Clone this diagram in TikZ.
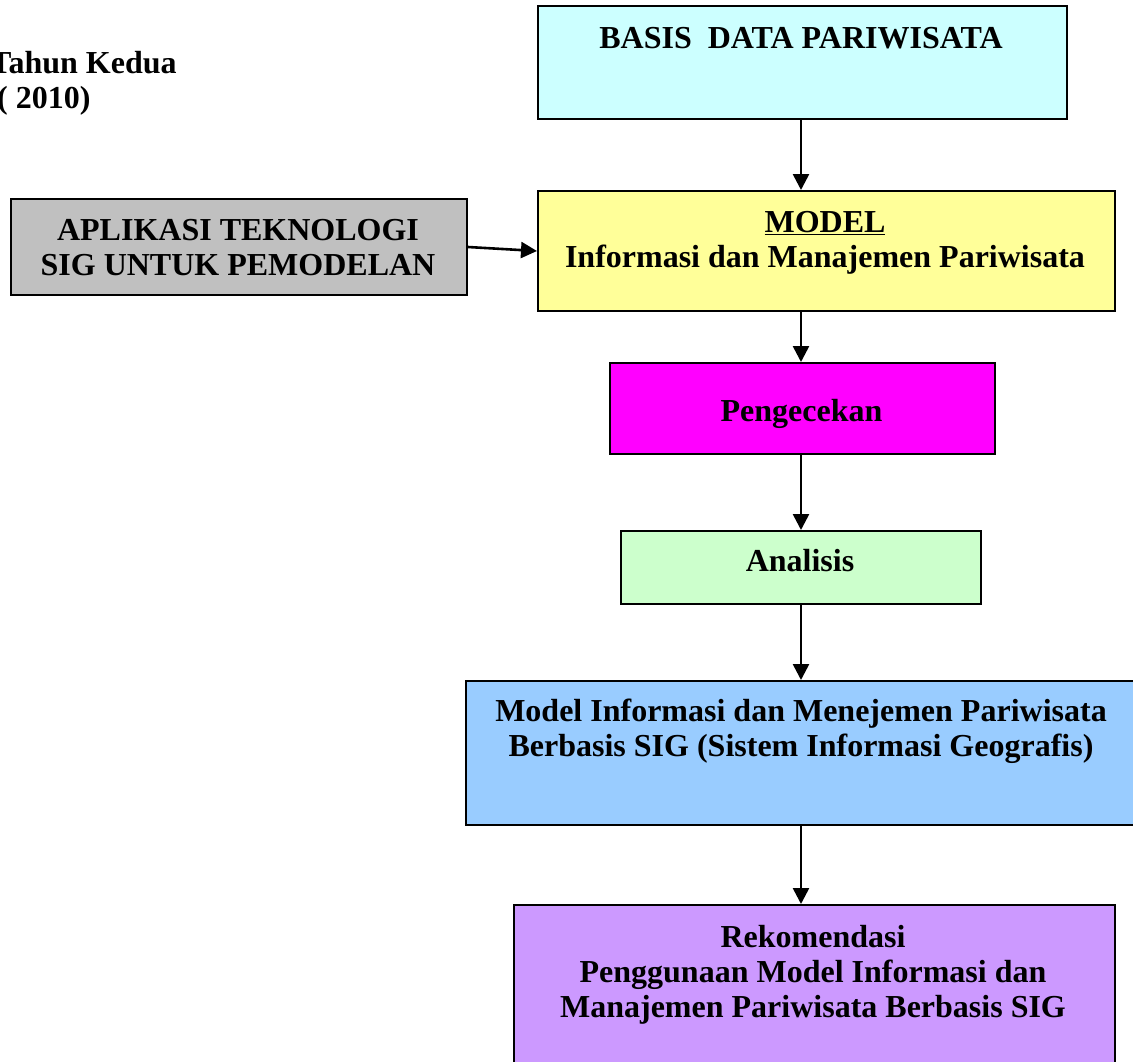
\documentclass[tikz,border=0pt]{standalone}
\usepackage{fontspec}
\setmainfont{Liberation Serif}
\usetikzlibrary{arrows.meta}
\definecolor{cyanc}{HTML}{CCFFFF}
\definecolor{yellowc}{HTML}{FFFF99}
\definecolor{grayc}{HTML}{C0C0C0}
\definecolor{magc}{HTML}{FF00FF}
\definecolor{greenc}{HTML}{CCFFCC}
\definecolor{bluec}{HTML}{99CCFF}
\definecolor{purplec}{HTML}{CC99FF}
\tikzset{
  boxnode/.style={draw=black, line width=2pt, rectangle, anchor=north west, inner sep=0pt},
  txt/.style={font=\fontsize{32}{35}\selectfont\bfseries, anchor=base, inner sep=0pt},
  arr/.style={line width=2.6pt, -{Triangle[width=16pt,length=16pt]}}
}
\begin{document}
\begin{tikzpicture}[x=1pt,y=-1pt]
\useasboundingbox (0,0) rectangle (1133,1061);
% boxes
\node[boxnode, fill=cyanc, minimum width=529pt, minimum height=113pt] (basis) at (537,5) {};
\node[boxnode, fill=yellowc, minimum width=577pt, minimum height=120pt] (model) at (537,190) {};
\node[boxnode, fill=grayc, minimum width=456pt, minimum height=96pt] (aplikasi) at (10,198) {};
\node[boxnode, fill=magc, minimum width=385pt, minimum height=91pt] (cek) at (609,362) {};
\node[boxnode, fill=greenc, minimum width=360pt, minimum height=73pt] (analisis) at (620,530) {};
\node[boxnode, fill=bluec, minimum width=690pt, minimum height=144pt] (sig) at (465,680) {};
\node[boxnode, fill=purplec, minimum width=601pt, minimum height=170pt] (rekom) at (513,904) {};
% texts
\node[txt, anchor=base west] (t1) at (-10,73) {Tahun Kedua};
\node[txt, anchor=base west] (t2) at (-3,108) {( 2010)};
\node[txt] (tbasis) at (801,48) {BASIS\ \ DATA PARIWISATA};
\node[txt] (tmodel1) at (825,232) {\underline{MODEL}};
\node[txt] (tmodel2) at (825,267) {Informasi dan Manajemen Pariwisata};
\node[txt] (tapl1) at (238,240) {APLIKASI TEKNOLOGI};
\node[txt] (tapl2) at (238,275) {SIG UNTUK PEMODELAN};
\node[txt] (tcek) at (801.5,421) {Pengecekan};
\node[txt] (tana) at (800,571) {Analisis};
\node[txt] (tsig1) at (801,721) {Model Informasi dan Menejemen Pariwisata};
\node[txt] (tsig2) at (801,756) {Berbasis SIG (Sistem Informasi Geografis)};
\node[txt] (trek1) at (813,947) {Rekomendasi};
\node[txt] (trek2) at (813,982) {Penggunaan Model Informasi dan};
\node[txt] (trek3) at (813,1017) {Manajemen Pariwisata Berbasis SIG};
% arrows
\coordinate (ax) at (801,0);
\draw[arr] (basis.south -| ax) -- (model.north -| ax);
\draw[arr] (model.south -| ax) -- (cek.north -| ax);
\draw[arr] (cek.south -| ax) -- (analisis.north -| ax);
\draw[arr] (analisis.south -| ax) -- (sig.north -| ax);
\draw[arr] (sig.south -| ax) -- (rekom.north -| ax);
\draw[arr] (aplikasi.east) -- (model.west);
\end{tikzpicture}
\end{document}
